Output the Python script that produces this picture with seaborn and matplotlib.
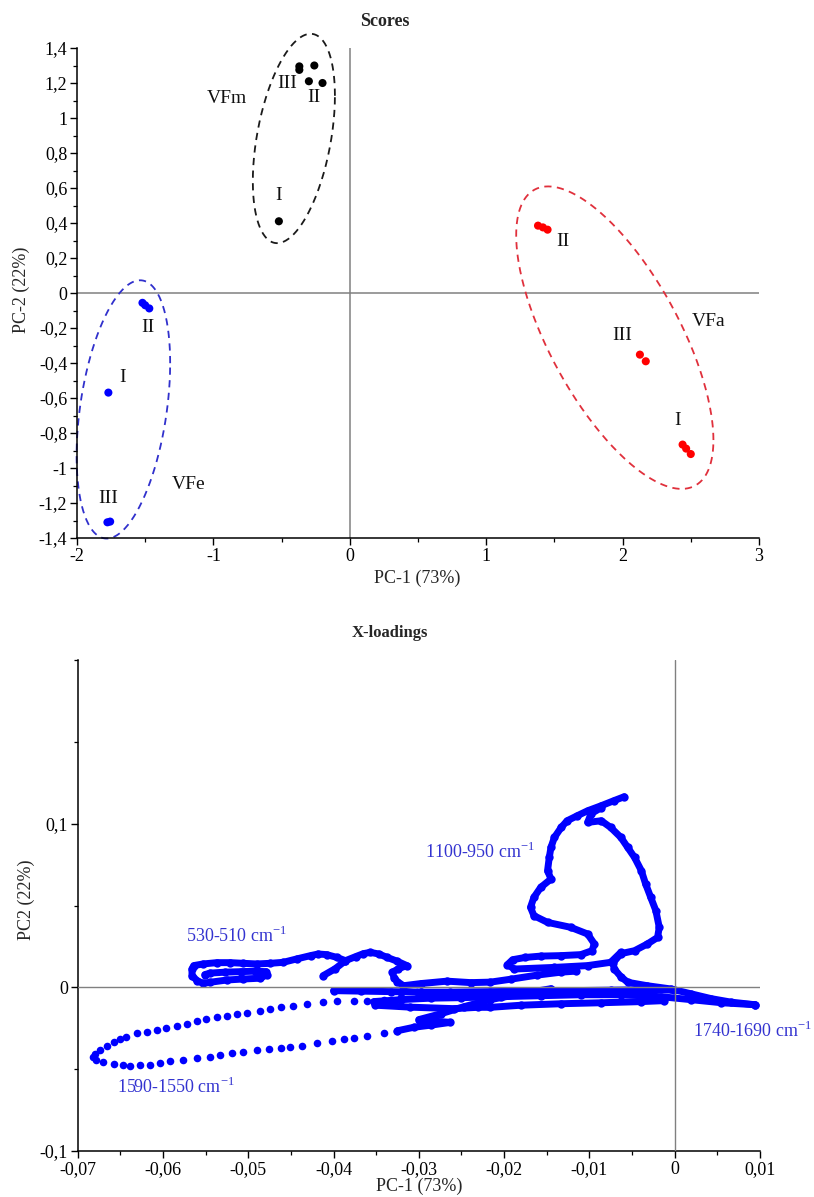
import numpy as np
import pandas as pd
import matplotlib
matplotlib.use("Agg")
import matplotlib.pyplot as plt
from matplotlib.ticker import AutoMinorLocator
import seaborn as sns

# ---------------- Scores (PC-1 / PC-2) ----------------
vfm_x = [-0.37, -0.37, -0.26, -0.30, -0.20, -0.52]
vfm_y = [1.295, 1.275, 1.30, 1.21, 1.20, 0.41]
vfa_x = [1.38, 1.416, 1.45, 2.127, 2.17, 2.44, 2.466, 2.50]
vfa_y = [0.385, 0.375, 0.362, -0.352, -0.39, -0.866, -0.889, -0.92]
vfe_x = [-1.52, -1.50, -1.47, -1.77, -1.777, -1.757]
vfe_y = [-0.056, -0.07, -0.088, -0.569, -1.31, -1.306]

# ellipse: centre, conjugate half-axes (data units)
ell_groups = ["VFm", "VFa", "VFe"]
ell_center = [(-0.41, 0.883), (1.943, -0.255), (-1.66, -0.665)]
ell_a = [(0.301, 0.244), (0.723, -0.585), (0.343, 0.264)]
ell_b = [(0.0, 0.546), (0.0, 0.636), (0.0, 0.689)]

score_labels = ["VFm", "III", "II", "I", "VFa", "II", "III", "I", "VFe", "II", "I", "III"]
score_lab_x = [-0.90, -0.456, -0.265, -0.524, 2.63, 1.566, 2.0, 2.40, -1.18, -1.48, -1.667, -1.77]
score_lab_y = [1.11, 1.20, 1.12, 0.557, -0.16, 0.293, -0.24, -0.73, -1.094, -0.195, -0.483, -1.176]

score_xticks = [-2, -1, 0, 1, 2, 3]
score_xticklabels = ["-2", "-1", "0", "1", "2", "3"]
score_yticks = [-1.4, -1.2, -1.0, -0.8, -0.6, -0.4, -0.2, 0, 0.2, 0.4, 0.6, 0.8, 1.0, 1.2, 1.4]
score_yticklabels = ["-1,4", "-1,2", "-1", "-0,8", "-0,6", "-0,4", "-0,2", "0",
                     "0,2", "0,4", "0,6", "0,8", "1", "1,2", "1,4"]

# ---------------- X-loadings ----------------
loop_1590_x = [-0.0302, -0.0321, -0.0341, -0.0361, -0.0376, -0.0396, -0.0412, -0.0431, -0.0447, -0.0462,
               -0.0474, -0.0486, -0.0502, -0.0513, -0.0525, -0.0537, -0.0549, -0.0560, -0.0572, -0.0584,
               -0.0596, -0.0607, -0.0619, -0.0631, -0.0643, -0.0650, -0.0658, -0.0666, -0.0674, -0.0680,
               -0.0682, -0.0678, -0.0670, -0.0658, -0.0647, -0.0639, -0.0627, -0.0615, -0.0603, -0.0592,
               -0.0576, -0.0560, -0.0545, -0.0533, -0.0519, -0.0506, -0.0490, -0.0476, -0.0462, -0.0451,
               -0.0437, -0.0419, -0.0402, -0.0388, -0.0376, -0.0361, -0.0341, -0.0325]
loop_1590_y = [-0.0031, -0.0061, -0.0075, -0.0081, -0.0081, -0.0086, -0.0092, -0.0101, -0.0112, -0.0122,
               -0.0132, -0.0142, -0.0156, -0.0163, -0.0173, -0.0183, -0.0193, -0.0208, -0.0224, -0.0234,
               -0.0248, -0.0258, -0.0271, -0.0281, -0.0301, -0.0315, -0.0336, -0.0356, -0.0382, -0.0407,
               -0.0423, -0.0444, -0.0458, -0.0468, -0.0474, -0.0478, -0.0472, -0.0472, -0.0464, -0.0452,
               -0.0444, -0.0431, -0.0423, -0.0415, -0.0403, -0.0393, -0.0382, -0.0379, -0.0373, -0.0362,
               -0.0356, -0.0340, -0.0326, -0.0315, -0.0309, -0.0295, -0.0281, -0.0265]

loop_530_x = [-0.0551, -0.0545, -0.0527, -0.0509, -0.0492, -0.0479, -0.0478, -0.0486, -0.0506, -0.0525,
              -0.0545, -0.0553, -0.0560, -0.0566, -0.0566, -0.0564, -0.0553, -0.0537, -0.0521, -0.0506,
              -0.0490, -0.0474, -0.0459, -0.0443, -0.0427, -0.0418, -0.0408, -0.0396, -0.0386, -0.0374,
              -0.0365, -0.0357, -0.0347, -0.0337, -0.0325, -0.0314, -0.0324, -0.0331, -0.0329, -0.0325,
              -0.0318]
loop_530_y = [0.0078, 0.0087, 0.0093, 0.0096, 0.0099, 0.0096, 0.0078, 0.0056, 0.0051, 0.0045,
              0.0031, 0.0024, 0.0041, 0.0072, 0.0112, 0.0133, 0.0143, 0.0151, 0.0151, 0.0147,
              0.0143, 0.0147, 0.0153, 0.0174, 0.0194, 0.0204, 0.0200, 0.0183, 0.0163, 0.0188,
              0.0206, 0.0214, 0.0204, 0.0183, 0.0159, 0.0133, 0.0114, 0.0092, 0.0059, 0.0035,
              0.0010]

stub_x = [-0.0386, -0.0398, -0.0412]
stub_y = [0.0163, 0.0114, 0.0072]

bump_x = [-0.0318, -0.0298, -0.0267, -0.0239, -0.0216, -0.0192, -0.0161, -0.0133, -0.0116]
bump_y = [0.0010, 0.0023, 0.0038, 0.0029, 0.0032, 0.0050, 0.0075, 0.0093, 0.0099]

band_top_x = [-0.0400, -0.0368, -0.0333, -0.0298, -0.0263, -0.0216, -0.0169, -0.0122, -0.0075, -0.0028, -0.0001]
band_top_y = [-0.0020, -0.0023, -0.0026, -0.0029, -0.0029, -0.0026, -0.0023, -0.0020, -0.0017, -0.0014, -0.0017]

band_mid_x = [-0.0353, -0.0321, -0.0286, -0.0251, -0.0204, -0.0157, -0.0110, -0.0063, -0.0016, 0.0019, 0.0055, 0.0094]
band_mid_y = [-0.0087, -0.0075, -0.0066, -0.0063, -0.0057, -0.0051, -0.0045, -0.0045, -0.0057, -0.0075, -0.0094, -0.0106]

band_low_x = [-0.0351, -0.0310, -0.0259, -0.0231, -0.0216, -0.0180, -0.0133, -0.0086, -0.0039, -0.0012]
band_low_y = [-0.0109, -0.0121, -0.0130, -0.0122, -0.0122, -0.0109, -0.0100, -0.0094, -0.0087, -0.0081]

zigzag_x = [-0.0325, -0.0306, -0.0286, -0.0263, -0.0280, -0.0300, -0.0274, -0.0247, -0.0216, -0.0180, -0.0145]
zigzag_y = [-0.0265, -0.0244, -0.0231, -0.0214, -0.0207, -0.0197, -0.0161, -0.0118, -0.0075, -0.0039, -0.0008]

peak_left_x = [-0.0063, -0.0075, -0.0102, -0.0141, -0.0188, -0.0196, -0.0190, -0.0175, -0.0157, -0.0133,
               -0.0110, -0.0097, -0.0094, -0.0102, -0.0122, -0.0149, -0.0165, -0.0169, -0.0165, -0.0157,
               -0.0145, -0.0149, -0.0147, -0.0145, -0.0141, -0.0133, -0.0126, -0.0114, -0.0102, -0.0086,
               -0.0071, -0.0059]
peak_left_y = [0.0214, 0.0153, 0.0133, 0.0122, 0.0112, 0.0139, 0.0169, 0.0183, 0.0191, 0.0194,
               0.0200, 0.0224, 0.0265, 0.0326, 0.0367, 0.0397, 0.0438, 0.0489, 0.0550, 0.0611,
               0.0662, 0.0713, 0.0794, 0.0855, 0.0916, 0.0977, 0.1018, 0.1049, 0.1079, 0.1110,
               0.1141, 0.1165]

peak_right_x = [-0.0086, -0.0098, -0.0102, -0.0086, -0.0075, -0.0063, -0.0055, -0.0047, -0.0039, -0.0034,
                -0.0028, -0.0022, -0.0018, -0.0020, -0.0032, -0.0047, -0.0063, -0.0072, -0.0071, -0.0063,
                -0.0055, -0.0032, -0.0004, 0.0019, 0.0043, 0.0066, 0.0094]
peak_right_y = [0.1098, 0.1061, 0.1008, 0.1018, 0.0977, 0.0916, 0.0855, 0.0794, 0.0713, 0.0632,
                0.0550, 0.0469, 0.0367, 0.0305, 0.0265, 0.0224, 0.0206, 0.0151, 0.0114, 0.0065,
                0.0031, 0.0010, -0.0010, -0.0039, -0.0069, -0.0090, -0.0106]

band_labels = ["1100-950 cm$^{\\mathregular{-1}}$", "530-510 cm$^{\\mathregular{-1}}$",
               "1590-1550 cm$^{\\mathregular{-1}}$", "1740-1690 cm$^{\\mathregular{-1}}$"]
band_lab_x = [-0.0228, -0.0514, -0.0585, 0.0091]
band_lab_y = [0.0825, 0.0316, -0.0607, -0.0265]

load_xticks = [-0.07, -0.06, -0.05, -0.04, -0.03, -0.02, -0.01, 0, 0.01]
load_xticklabels = ["-0,07", "-0,06", "-0,05", "-0,04", "-0,03", "-0,02", "-0,01", "0", "0,01"]
load_yticks = [-0.1, 0, 0.1]
load_yticklabels = ["-0,1", "0", "0,1"]

BLUE = "#0000ff"
GROUP_COLORS = {"VFm": "#000000", "VFa": "#ff0000", "VFe": "#0000ff"}
ELL_COLORS = {"VFm": "#1a1a1a", "VFa": "#e0303c", "VFe": "#3030cc"}

sns.set_theme(style="ticks")
plt.rcParams['font.family'] = ['Liberation Serif', 'DejaVu Serif']
plt.rcParams['axes.edgecolor'] = 'black'
plt.rcParams['xtick.color'] = 'black'
plt.rcParams['ytick.color'] = 'black'

scores = pd.DataFrame({
    "pc1": vfm_x + vfa_x + vfe_x,
    "pc2": vfm_y + vfa_y + vfe_y,
    "group": ["VFm"] * len(vfm_x) + ["VFa"] * len(vfa_x) + ["VFe"] * len(vfe_x),
})

segments = {
    "loop_1590": (loop_1590_x, loop_1590_y, "dots"),
    "loop_530": (loop_530_x, loop_530_y, "dense"),
    "stub": (stub_x, stub_y, "dense"),
    "bump": (bump_x, bump_y, "dense"),
    "band_top": (band_top_x, band_top_y, "dense"),
    "band_mid": (band_mid_x, band_mid_y, "dense"),
    "band_low": (band_low_x, band_low_y, "dense"),
    "zigzag": (zigzag_x, zigzag_y, "dense"),
    "peak_left": (peak_left_x, peak_left_y, "dense"),
    "peak_right": (peak_right_x, peak_right_y, "dense"),
}
frames = []
for name, (xs, ys, kind) in segments.items():
    frames.append(pd.DataFrame({"pc1": xs, "pc2": ys, "segment": name, "kind": kind}))
loadings = pd.concat(frames, ignore_index=True)

fig = plt.figure(figsize=(8.14, 11.97), dpi=100)
ax1 = fig.add_axes([0.0946, 0.5505, 0.8378, 0.4094])
ax2 = fig.add_axes([0.0955, 0.0384, 0.838, 0.4102])


def style_axes(ax):
    sns.despine(ax=ax)
    for side in ["left", "bottom"]:
        ax.spines[side].set_linewidth(1.1)
        ax.spines[side].set_color("black")
    ax.xaxis.set_minor_locator(AutoMinorLocator(2))
    ax.yaxis.set_minor_locator(AutoMinorLocator(2))
    ax.tick_params(which="major", direction="out", length=5, width=1.0, labelsize=13, pad=2)
    ax.tick_params(which="minor", direction="out", length=3, width=0.9)
    ax.set_xlabel("")
    ax.set_ylabel("")


# --- Scores panel ---
ax1.axhline(0, color="#808080", lw=1.1, zorder=1)
ax1.axvline(0, color="#808080", lw=1.1, zorder=1)
sns.scatterplot(data=scores, x="pc1", y="pc2", hue="group", palette=GROUP_COLORS,
                s=34, linewidth=0, legend=False, ax=ax1, zorder=3)
t = np.linspace(0, 2 * np.pi, 300)
for g, c, a, b in zip(ell_groups, ell_center, ell_a, ell_b):
    ex = c[0] + a[0] * np.cos(t) + b[0] * np.sin(t)
    ey = c[1] + a[1] * np.cos(t) + b[1] * np.sin(t)
    ax1.plot(ex, ey, color=ELL_COLORS[g], lw=1.3, ls=(0, (4, 3)), clip_on=False, zorder=2)
for lab, lx, ly in zip(score_labels, score_lab_x, score_lab_y):
    ax1.text(lx, ly, lab, ha="center", va="center", fontsize=14, color="#111111")
ax1.set_xlim(-2, 3)
ax1.set_ylim(-1.4, 1.4)
ax1.set_xticks(score_xticks)
ax1.set_xticklabels(score_xticklabels)
ax1.set_yticks(score_yticks)
ax1.set_yticklabels(score_yticklabels)
style_axes(ax1)

# --- Loadings panel ---
dense = loadings[loadings["kind"] == "dense"]
sns.lineplot(data=dense, x="pc1", y="pc2", units="segment", estimator=None, sort=False,
             color=BLUE, lw=5.0, solid_capstyle="round", solid_joinstyle="round",
             legend=False, ax=ax2, zorder=2)
sns.scatterplot(data=dense, x="pc1", y="pc2", color=BLUE, s=36, linewidth=0,
                legend=False, ax=ax2, zorder=2)
sns.scatterplot(data=loadings[loadings["kind"] == "dots"], x="pc1", y="pc2", color=BLUE,
                s=30, linewidth=0, legend=False, ax=ax2, zorder=2)
ax2.axhline(0, color="#808080", lw=1.0, zorder=3)
ax2.axvline(0, color="#808080", lw=1.0, zorder=3)
for lab, lx, ly in zip(band_labels, band_lab_x, band_lab_y):
    ax2.text(lx, ly, lab, ha="center", va="center", fontsize=13, color="#3333d0")
ax2.set_xlim(-0.07, 0.01)
ax2.set_ylim(-0.1, 0.2)
ax2.set_xticks(load_xticks)
ax2.set_xticklabels(load_xticklabels)
ax2.set_yticks(load_yticks)
ax2.set_yticklabels(load_yticklabels)
style_axes(ax2)

# titles and axis labels
W, H = 814, 1197
fig.text(385 / W, 1 - 21 / H, "Scores", ha="center", va="center", fontsize=13, fontweight="bold")
fig.text(417 / W, 1 - 578 / H, "PC-1 (73%)", ha="center", va="center", fontsize=13)
fig.text(21 / W, 1 - 290 / H, "PC-2 (22%)", ha="center", va="center", fontsize=13, rotation=90)
fig.text(390 / W, 1 - 633 / H, "X-loadings", ha="center", va="center", fontsize=12, fontweight="bold")
fig.text(419 / W, 1 - 1186 / H, "PC-1 (73%)", ha="center", va="center", fontsize=13)
fig.text(26 / W, 1 - 900 / H, "PC2 (22%)", ha="center", va="center", fontsize=13, rotation=90)

fig.savefig("out.png", dpi=100)
